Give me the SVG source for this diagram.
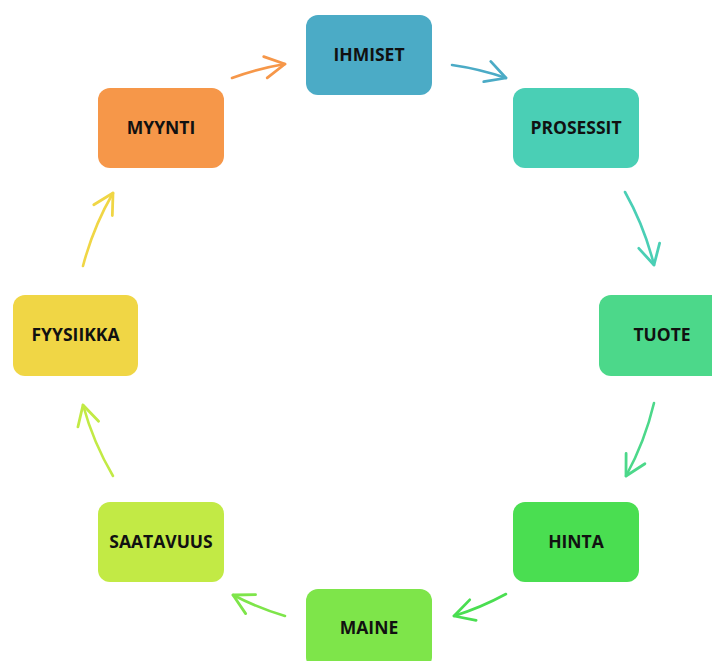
<svg xmlns="http://www.w3.org/2000/svg" width="712" height="661" viewBox="0 0 712 661">
  <style>
    .box { stroke: none; }
    .lbl { font-family: "Open Sans", "DejaVu Sans", sans-serif; font-weight: bold; font-size: 17.5px; fill: #111; text-anchor: middle; }
    .edge { fill: none; stroke-width: 2.6; stroke-linecap: round; }
  </style>
  <defs>
    <marker id="hOrange" markerUnits="userSpaceOnUse" markerWidth="30" markerHeight="30" refX="0" refY="0" viewBox="-22 -14 26 28" orient="auto" overflow="visible">
      <path d="M-18.5,-10 L0,0 L-18.5,10" fill="none" stroke="#F69749" stroke-width="2.6" stroke-linecap="round" stroke-linejoin="round"/>
    </marker>
    <marker id="hBlue" markerUnits="userSpaceOnUse" markerWidth="30" markerHeight="30" refX="0" refY="0" viewBox="-22 -14 26 28" orient="auto" overflow="visible">
      <path d="M-18.5,-10 L0,0 L-18.5,10" fill="none" stroke="#4BABC6" stroke-width="2.6" stroke-linecap="round" stroke-linejoin="round"/>
    </marker>
    <marker id="hTeal" markerUnits="userSpaceOnUse" markerWidth="30" markerHeight="30" refX="0" refY="0" viewBox="-22 -14 26 28" orient="auto" overflow="visible">
      <path d="M-18.5,-10 L0,0 L-18.5,10" fill="none" stroke="#4ACFB5" stroke-width="2.6" stroke-linecap="round" stroke-linejoin="round"/>
    </marker>
    <marker id="hMint" markerUnits="userSpaceOnUse" markerWidth="30" markerHeight="30" refX="0" refY="0" viewBox="-22 -14 26 28" orient="auto" overflow="visible">
      <path d="M-18.5,-10 L0,0 L-18.5,10" fill="none" stroke="#4CD88A" stroke-width="2.6" stroke-linecap="round" stroke-linejoin="round"/>
    </marker>
    <marker id="hGreen" markerUnits="userSpaceOnUse" markerWidth="30" markerHeight="30" refX="0" refY="0" viewBox="-22 -14 26 28" orient="auto" overflow="visible">
      <path d="M-18.5,-10 L0,0 L-18.5,10" fill="none" stroke="#4ADE51" stroke-width="2.6" stroke-linecap="round" stroke-linejoin="round"/>
    </marker>
    <marker id="hLime" markerUnits="userSpaceOnUse" markerWidth="30" markerHeight="30" refX="0" refY="0" viewBox="-22 -14 26 28" orient="auto" overflow="visible">
      <path d="M-18.5,-10 L0,0 L-18.5,10" fill="none" stroke="#7EE54A" stroke-width="2.6" stroke-linecap="round" stroke-linejoin="round"/>
    </marker>
    <marker id="hChart" markerUnits="userSpaceOnUse" markerWidth="30" markerHeight="30" refX="0" refY="0" viewBox="-22 -14 26 28" orient="auto" overflow="visible">
      <path d="M-18.5,-10 L0,0 L-18.5,10" fill="none" stroke="#C2EA45" stroke-width="2.6" stroke-linecap="round" stroke-linejoin="round"/>
    </marker>
    <marker id="hYellow" markerUnits="userSpaceOnUse" markerWidth="30" markerHeight="30" refX="0" refY="0" viewBox="-22 -14 26 28" orient="auto" overflow="visible">
      <path d="M-18.5,-10 L0,0 L-18.5,10" fill="none" stroke="#F0D645" stroke-width="2.6" stroke-linecap="round" stroke-linejoin="round"/>
    </marker>
  </defs>

  <rect width="712" height="661" fill="#ffffff"/>

  <!-- connectors: arcs of one circle around (368.5, 342) -->
  <g id="connectors">
    <path class="edge" stroke="#F69749" marker-end="url(#hOrange)" d="M232,78 A293,293 0 0 1 285,64"/>
    <path class="edge" stroke="#4BABC6" marker-end="url(#hBlue)" d="M452,65 A293,293 0 0 1 506,78"/>
    <path class="edge" stroke="#4ACFB5" marker-end="url(#hTeal)" d="M625,192 A293,293 0 0 1 654,265"/>
    <path class="edge" stroke="#4CD88A" marker-end="url(#hMint)" d="M654,403 A293,293 0 0 1 626,476"/>
    <path class="edge" stroke="#4ADE51" marker-end="url(#hGreen)" d="M506,594 A293,293 0 0 1 454,616"/>
    <path class="edge" stroke="#7EE54A" marker-end="url(#hLime)" d="M285,616 A293,293 0 0 1 233,595"/>
    <path class="edge" stroke="#C2EA45" marker-end="url(#hChart)" d="M113,476 A293,293 0 0 1 83,405"/>
    <path class="edge" stroke="#F0D645" marker-end="url(#hYellow)" d="M83,266 A293,293 0 0 1 113,193"/>
  </g>

  <g id="ihmiset">
    <rect class="box" x="306" y="15" width="126" height="80" rx="12" fill="#4BABC6"/>
    <text class="lbl" x="369" y="61">IHMISET</text>
  </g>
  <g id="prosessit">
    <rect class="box" x="513" y="88" width="126" height="80" rx="12" fill="#4ACFB5"/>
    <text class="lbl" x="576" y="134">PROSESSIT</text>
  </g>
  <g id="tuote">
    <rect class="box" x="599" y="295" width="126" height="81" rx="12" fill="#4CD88A"/>
    <text class="lbl" x="662" y="341">TUOTE</text>
  </g>
  <g id="hinta">
    <rect class="box" x="513" y="502" width="126" height="80" rx="12" fill="#4ADE51"/>
    <text class="lbl" x="576" y="548">HINTA</text>
  </g>
  <g id="maine">
    <rect class="box" x="306" y="589" width="126" height="80" rx="12" fill="#7EE54A"/>
    <text class="lbl" x="369" y="634">MAINE</text>
  </g>
  <g id="saatavuus">
    <rect class="box" x="98" y="502" width="126" height="80" rx="12" fill="#C2EA45"/>
    <text class="lbl" x="161" y="548">SAATAVUUS</text>
  </g>
  <g id="fyysiikka">
    <rect class="box" x="13" y="295" width="125" height="81" rx="12" fill="#F0D645"/>
    <text class="lbl" x="75.5" y="341">FYYSIIKKA</text>
  </g>
  <g id="myynti">
    <rect class="box" x="98" y="88" width="126" height="80" rx="12" fill="#F69749"/>
    <text class="lbl" x="161" y="134">MYYNTI</text>
  </g>
</svg>
